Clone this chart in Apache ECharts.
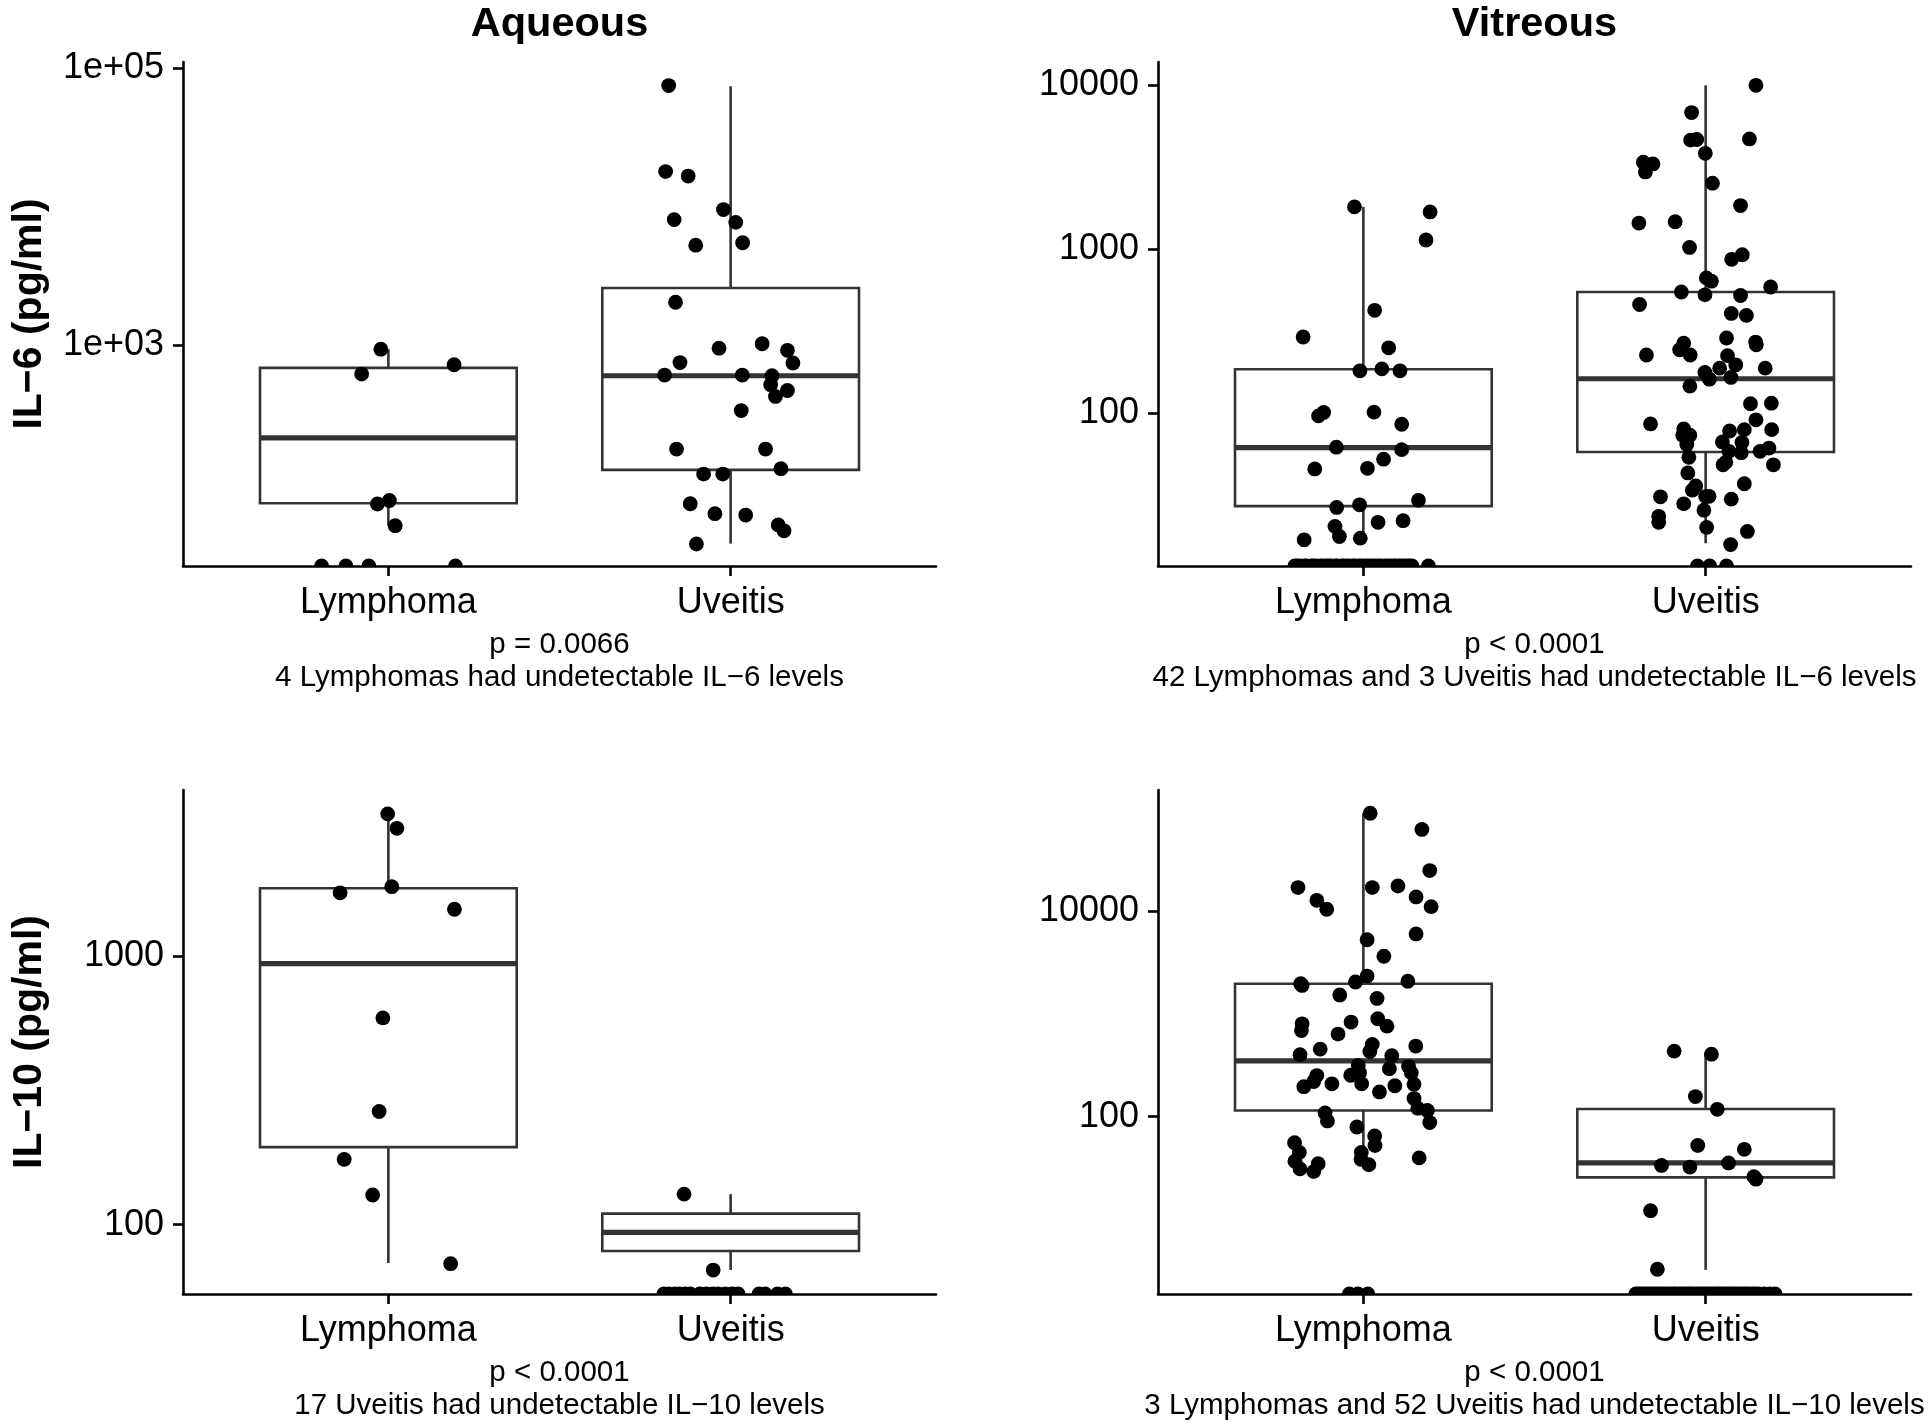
<!DOCTYPE html>
<html>
<head>
<meta charset="utf-8">
<script src="https://cdn.jsdelivr.net/npm/echarts@6/dist/echarts.min.js"></script>
<style>
  html, body { margin: 0; padding: 0; background: #ffffff; }
  #chart { width: 1930px; height: 1426px; }
</style>
</head>
<body>
<div id="chart"></div>
<script>
// ---------------- DATA ----------------
const groups = ['Lymphoma', 'Uveitis'];
const columnTitles = ['Aqueous', 'Vitreous'];
const rowTitles = ['IL\u22126 (pg/ml)', 'IL\u221210 (pg/ml)'];

// --- IL-6, Aqueous ---
const il6AqFloor = 25.1;            // undetectable level (bottom of axis)
const il6AqTop = 111000;
const il6AqTickValues = [1000, 100000];
const il6AqTickLabels = ['1e+03', '1e+05'];
const il6AqLymphomaBox = [49.1, 71.3, 212, 681, 929];
const il6AqUveitisBox = [36.5, 124.4, 597, 2576, 74100];
const il6AqLymphomaValues = [929, 614, 717, 70.5, 74.7, 49.1];
const il6AqLymphomaJitter = [-0.022, -0.078, 0.192, -0.032, 0.003, 0.020];
const il6AqLymphomaUndetJitter = [-0.195, -0.124, -0.057, 0.196];
const il6AqUveitisValues = [75000, 17900, 16600, 9500, 7680, 8040, 5470, 5250, 2030, 944, 1017, 912, 743, 738, 604, 604,
  597, 514, 467, 423, 334, 176, 176, 127, 116, 116, 70.8, 60, 58.6, 49.7, 45.1, 36.2];
const il6AqUveitisJitter = [-0.181, -0.190, -0.124, -0.021, 0.015, -0.165, 0.035, -0.102, -0.161, -0.034, 0.092, 0.166,
  -0.148, 0.182, -0.193, 0.034, 0.121, 0.117, 0.166, 0.131, 0.031, -0.158, 0.102, 0.147, -0.079, -0.023, -0.118, -0.046,
  0.044, 0.139, 0.156, -0.100];
const il6AqUveitisUndetJitter = [];
const il6AqCaption = 'p = 0.0066\n4 Lymphomas had undetectable IL\u22126 levels';

// --- IL-6, Vitreous ---
const il6VitFloor = 11.7;
const il6VitTop = 13800;
const il6VitTickValues = [100, 1000, 10000];
const il6VitTickLabels = ['100', '1000', '10000'];
const il6VitLymphomaBox = [18.5, 27.1, 61.6, 185, 1807];
const il6VitUveitisBox = [16.1, 58, 162, 547, 9950];
const il6VitLymphomaValues = [1807, 1683, 1135, 423, 291, 250, 181, 186, 181, 96.2, 101, 101.4, 85.5, 62, 59.9, 52.4,
  45.7, 46.1, 29.4, 26.6, 27.6, 21.6, 22.1, 20.4, 17.7, 17.3, 16.9];
const il6VitLymphomaJitter = [-0.026, 0.195, 0.183, 0.033, -0.176, 0.074, -0.010, 0.054, 0.107, -0.131, -0.116, 0.031,
  0.112, -0.079, 0.112, 0.059, -0.142, 0.012, 0.161, -0.078, -0.011, 0.043, 0.116, -0.083, -0.070, -0.009, -0.173];
const il6VitLymphomaUndetJitter = [-0.200, -0.192, -0.183, -0.171, -0.166, -0.152, -0.147, -0.138, -0.126, -0.119,
  -0.108, -0.101, -0.094, -0.082, -0.077, -0.064, -0.058, -0.049, -0.041, -0.030, -0.024, -0.013, -0.006, 0.004, 0.012,
  0.021, 0.029, 0.037, 0.046, 0.052, 0.063, 0.071, 0.079, 0.088, 0.094, 0.103, 0.111, 0.119, 0.127, 0.134, 0.142, 0.190];
const il6VitUveitisValues = [9950, 6790, 4610, 4650, 4690, 3830, 3380, 3300, 2950, 2520, 1840, 1440, 1466, 1023, 866, 923,
  667, 637, 587, 547, 526, 521, 459, 405, 394, 287, 271, 261, 267, 243, 226, 226, 224, 197, 188, 188, 177, 161, 165, 146,
  114, 115, 91, 85.9, 80, 73.4, 73.4, 77.8, 79.3, 79.3, 64.3, 66.7, 66.2, 58.5, 57.4, 58.5, 61.2, 53.8, 48.4, 50.2, 48.4,
  43.2, 37.1, 36, 33.9, 31.1, 31, 30.9, 29.9, 28, 25.6, 23.5, 21.6, 20.1, 19, 15.8];
const il6VitUveitisJitter = [0.147, -0.041, -0.044, -0.026, 0.128, -0.001, -0.182, -0.154, -0.176, 0.020, 0.102, -0.195,
  -0.089, -0.047, 0.076, 0.107, 0.002, 0.017, 0.190, -0.071, -0.002, 0.102, -0.193, 0.075, 0.119, 0.061, 0.146, 0.148,
  -0.064, -0.076, -0.045, -0.173, 0.064, 0.088, 0.041, 0.174, -0.002, 0.011, 0.074, -0.046, 0.131, 0.192, 0.147, -0.161,
  -0.064, -0.067, -0.046, 0.070, 0.113, 0.193, -0.055, 0.049, 0.106, 0.068, 0.104, 0.159, 0.185, -0.049, 0.051, 0.059,
  0.198, -0.052, 0.113, -0.029, -0.039, 0.010, 0.000, -0.132, 0.075, -0.064, -0.005, -0.137, -0.137, 0.003, 0.122, 0.073];
const il6VitUveitisUndetJitter = [-0.024, 0.012, 0.061];
const il6VitCaption = 'p < 0.0001\n42 Lymphomas and 3 Uveitis had undetectable IL\u22126 levels';

// --- IL-10, Aqueous ---
const il10AqFloor = 55.2;
const il10AqTop = 4160;
const il10AqTickValues = [100, 1000];
const il10AqTickLabels = ['100', '1000'];
const il10AqLymphomaBox = [72, 194.5, 938, 1792, 3390];
const il10AqUveitisBox = [67.8, 79.8, 93.7, 110, 130];
const il10AqLymphomaValues = [3390, 2995, 1815, 1722, 1496, 589, 264, 175, 129, 71.6];
const il10AqLymphomaJitter = [-0.002, 0.025, 0.010, -0.141, 0.193, -0.016, -0.027, -0.129, -0.046, 0.182];
const il10AqLymphomaUndetJitter = [];
const il10AqUveitisValues = [130, 67.8];
const il10AqUveitisJitter = [-0.136, -0.051];
const il10AqUveitisUndetJitter = [-0.195, -0.181, -0.164, -0.150, -0.133, -0.118, -0.090, -0.071, -0.052, -0.037, -0.016,
  0.004, 0.022, 0.083, 0.101, 0.137, 0.160];
const il10AqCaption = 'p < 0.0001\n17 Uveitis had undetectable IL\u221210 levels';

// --- IL-10, Vitreous ---
const il10VitFloor = 1.89;
const il10VitTop = 150000;
const il10VitTickValues = [100, 10000];
const il10VitTickLabels = ['100', '10000'];
const il10VitLymphomaBox = [33.7, 115, 349, 1964, 89100];
const il10VitUveitisBox = [3.24, 25.7, 35.5, 119, 424];
const il10VitLymphomaValues = [89100, 62100, 24700, 16900, 16900, 17500, 12700, 10400, 13700, 11000, 5980, 5250, 3630,
  1965, 1890, 2040, 2330, 2075, 1525, 1413, 800, 687, 832, 898, 759, 636, 454, 505, 430, 486, 401, 392, 316, 293, 307,
  267, 253, 267, 251, 220, 196, 209, 209, 200, 207, 174, 150, 121, 115, 109, 91, 87.7, 79.4, 65, 52.5, 55.8, 45, 36.9,
  31.1, 34.9, 29.3, 45, 38.6, 34.1, 39.8];
const il10VitLymphomaJitter = [0.020, 0.171, 0.194, -0.191, 0.026, 0.101, -0.136, -0.107, 0.154, 0.198, 0.154, 0.011,
  0.060, -0.183, -0.179, -0.023, 0.011, 0.130, -0.069, 0.040, -0.179, -0.181, -0.036, 0.042, 0.069, -0.074, -0.126, 0.026,
  0.019, 0.153, -0.185, 0.083, -0.015, 0.076, 0.132, 0.140, -0.037, -0.011, -0.136, -0.145, -0.174, -0.092, -0.005, 0.092,
  0.148, 0.047, 0.148, 0.159, 0.187, -0.112, -0.105, 0.194, -0.019, 0.033, 0.034, -0.201, -0.187, -0.200, -0.185, -0.132,
  -0.145, -0.006, -0.007, 0.016, 0.163];
const il10VitLymphomaUndetJitter = [-0.041, -0.016, 0.013];
const il10VitUveitisValues = [434, 405, 157, 118, 52.5, 48.2, 33.6, 32.4, 35.5, 26.1, 24.7, 12.2, 3.29];
const il10VitUveitisJitter = [-0.092, 0.017, -0.030, 0.034, -0.023, 0.113, -0.129, -0.046, 0.067, 0.141, 0.147, -0.161, -0.141];
const il10VitUveitisUndetJitter = [-0.204, -0.197, -0.189, -0.183, -0.176, -0.168, -0.161, -0.153, -0.146, -0.139,
  -0.131, -0.124, -0.117, -0.109, -0.101, -0.094, -0.088, -0.079, -0.072, -0.066, -0.058, -0.050, -0.043, -0.036, -0.027,
  -0.021, -0.013, -0.005, 0.002, 0.010, 0.017, 0.025, 0.033, 0.040, 0.047, 0.055, 0.062, 0.069, 0.078, 0.085, 0.092,
  0.100, 0.108, 0.115, 0.122, 0.131, 0.139, 0.146, 0.156, 0.171, 0.188, 0.203];
const il10VitCaption = 'p < 0.0001\n3 Lymphomas and 52 Uveitis had undetectable IL\u221210 levels';

// ---------------- BUILD ----------------
const FONT = '"Liberation Sans", Arial, Helvetica, sans-serif';
const BOX_HALF = 0.375;
const DOT_RADIUS = 7.4;

const panels = [
  { floor: il6AqFloor, top: il6AqTop, ticks: il6AqTickValues, labels: il6AqTickLabels,
    boxes: [il6AqLymphomaBox, il6AqUveitisBox],
    values: [il6AqLymphomaValues, il6AqUveitisValues], jitter: [il6AqLymphomaJitter, il6AqUveitisJitter],
    undet: [il6AqLymphomaUndetJitter, il6AqUveitisUndetJitter], caption: il6AqCaption, yName: rowTitles[0] },
  { floor: il6VitFloor, top: il6VitTop, ticks: il6VitTickValues, labels: il6VitTickLabels,
    boxes: [il6VitLymphomaBox, il6VitUveitisBox],
    values: [il6VitLymphomaValues, il6VitUveitisValues], jitter: [il6VitLymphomaJitter, il6VitUveitisJitter],
    undet: [il6VitLymphomaUndetJitter, il6VitUveitisUndetJitter], caption: il6VitCaption, yName: '' },
  { floor: il10AqFloor, top: il10AqTop, ticks: il10AqTickValues, labels: il10AqTickLabels,
    boxes: [il10AqLymphomaBox, il10AqUveitisBox],
    values: [il10AqLymphomaValues, il10AqUveitisValues], jitter: [il10AqLymphomaJitter, il10AqUveitisJitter],
    undet: [il10AqLymphomaUndetJitter, il10AqUveitisUndetJitter], caption: il10AqCaption, yName: rowTitles[1] },
  { floor: il10VitFloor, top: il10VitTop, ticks: il10VitTickValues, labels: il10VitTickLabels,
    boxes: [il10VitLymphomaBox, il10VitUveitisBox],
    values: [il10VitLymphomaValues, il10VitUveitisValues], jitter: [il10VitLymphomaJitter, il10VitUveitisJitter],
    undet: [il10VitLymphomaUndetJitter, il10VitUveitisUndetJitter], caption: il10VitCaption, yName: '' }
];

const gridLayout = [
  { left: 183, top: 62, width: 753, height: 504 },
  { left: 1158, top: 62, width: 753, height: 504 },
  { left: 183, top: 790, width: 753, height: 504 },
  { left: 1158, top: 790, width: 753, height: 504 }
];

function renderBox(params, api) {
  const x = api.value(0);
  const pMin = api.coord([x, api.value(1)]);
  const pQ1 = api.coord([x, api.value(2)]);
  const pMed = api.coord([x, api.value(3)]);
  const pQ3 = api.coord([x, api.value(4)]);
  const pMax = api.coord([x, api.value(5)]);
  const xl = api.coord([x - BOX_HALF, api.value(3)])[0];
  const xr = api.coord([x + BOX_HALF, api.value(3)])[0];
  const stroke = '#333333';
  return {
    type: 'group',
    children: [
      { type: 'line', shape: { x1: pMax[0], y1: pMax[1], x2: pQ3[0], y2: pQ3[1] }, style: { stroke: stroke, lineWidth: 2.6 } },
      { type: 'line', shape: { x1: pQ1[0], y1: pQ1[1], x2: pMin[0], y2: pMin[1] }, style: { stroke: stroke, lineWidth: 2.6 } },
      { type: 'rect', shape: { x: xl, y: pQ3[1], width: xr - xl, height: pQ1[1] - pQ3[1] },
        style: { fill: '#ffffff', stroke: stroke, lineWidth: 2.6 } },
      { type: 'line', shape: { x1: xl, y1: pMed[1], x2: xr, y2: pMed[1] }, style: { stroke: stroke, lineWidth: 5.2 } }
    ]
  };
}

function renderDot(params, api) {
  const p = api.coord([api.value(0), api.value(1)]);
  return { type: 'circle', shape: { cx: p[0], cy: p[1], r: DOT_RADIUS }, style: { fill: '#000000' } };
}

const grid = [], xAxis = [], yAxis = [], series = [];
panels.forEach(function (p, i) {
  grid.push(Object.assign({ containLabel: false, outerBoundsMode: 'none' }, gridLayout[i]));
  xAxis.push({
    gridIndex: i, type: 'value', min: 0.4, max: 2.6,
    axisLine: { show: true, onZero: false, lineStyle: { color: '#000', width: 2.6 } },
    axisTick: { show: true, customValues: [1, 2], length: 10, lineStyle: { color: '#000', width: 2.6 } },
    axisLabel: { show: true, customValues: [1, 2], formatter: function (v) { return groups[Math.round(v) - 1] || ''; },
      fontSize: 36, color: '#000', margin: 19, fontFamily: FONT },
    splitLine: { show: false },
    name: p.caption, nameLocation: 'middle', nameGap: 62, nameMoveOverlap: false,
    nameTextStyle: { fontSize: 29.5, lineHeight: 33.5, color: '#000', fontFamily: FONT }
  });
  yAxis.push({
    gridIndex: i, type: 'log', logBase: 10, min: p.floor, max: p.top,
    axisLine: { show: true, onZero: false, lineStyle: { color: '#000', width: 2.6 } },
    axisTick: { show: true, customValues: p.ticks, length: 10, lineStyle: { color: '#000', width: 2.6 } },
    axisLabel: { show: true, customValues: p.ticks, fontSize: 36, color: '#000', margin: 19, fontFamily: FONT,
      formatter: function (v) {
        const k = p.ticks.findIndex(function (t) { return Math.abs(Math.log10(t) - Math.log10(v)) < 1e-6; });
        return k >= 0 ? p.labels[k] : '';
      } },
    splitLine: { show: false },
    name: p.yName, nameLocation: 'middle', nameGap: 133, nameMoveOverlap: false,
    nameTextStyle: { fontSize: 41, fontWeight: 'bold', color: '#000', fontFamily: FONT }
  });
  series.push({
    type: 'custom', xAxisIndex: i, yAxisIndex: i, renderItem: renderBox, z: 2, silent: true,
    encode: { x: 0, y: [1, 2, 3, 4, 5] },
    data: p.boxes.map(function (b, g) { return [g + 1].concat(b); })
  });
  const pts = [];
  p.values.forEach(function (vals, g) {
    vals.forEach(function (v, k) { pts.push([g + 1 + p.jitter[g][k], v]); });
  });
  p.undet.forEach(function (jit, g) {
    jit.forEach(function (d) { pts.push([g + 1 + d, p.floor]); });
  });
  series.push({
    type: 'custom', xAxisIndex: i, yAxisIndex: i, renderItem: renderDot, z: 4, clip: true, silent: true,
    encode: { x: 0, y: 1 },
    data: pts
  });
});

const option = {
  animation: false,
  backgroundColor: '#ffffff',
  textStyle: { fontFamily: FONT },
  grid: grid, xAxis: xAxis, yAxis: yAxis, series: series,
  graphic: [
    { type: 'text', x: 559.5, y: 25, style: { text: columnTitles[0], fontSize: 41.5, fontWeight: 'bold', fontFamily: FONT,
      fill: '#000', align: 'center', verticalAlign: 'middle' } },
    { type: 'text', x: 1534.5, y: 25, style: { text: columnTitles[1], fontSize: 41.5, fontWeight: 'bold', fontFamily: FONT,
      fill: '#000', align: 'center', verticalAlign: 'middle' } }
  ]
};

const chart = echarts.init(document.getElementById('chart'), null, { renderer: 'canvas' });
chart.setOption(option);
</script>
</body>
</html>
